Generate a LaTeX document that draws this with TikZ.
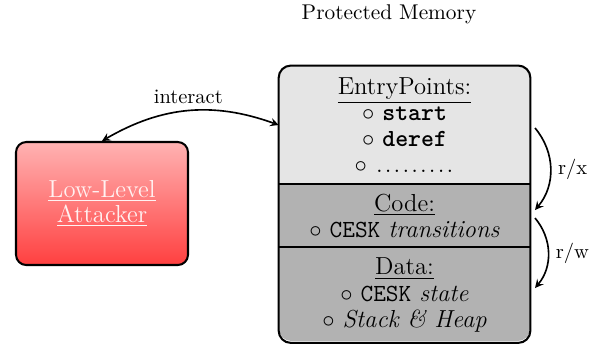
\documentclass[tikz,border=0pt]{standalone}
\usepackage{xcolor}
\usepackage{tikz}
\usetikzlibrary{positioning}
\definecolor{entrygray}{gray}{0.9}
\definecolor{storegray}{gray}{0.7}
\newcommand{\entrydots}{\hbox{\leaders\hbox to 4.3pt{\hss.\hss}\hskip 38.7pt}}

\begin{document}
\begin{tikzpicture}[x=0.4878pt, y=-0.4878pt, >=stealth,
  memsection/.style={minimum width=122.4pt, inner sep=0pt, align=center,
    font=\linespread{0.91}\large},
  attacker/.style={draw, line width=1pt, rounded corners=5pt, align=center,
    minimum width=83.9pt, minimum height=60pt, top color=red!30,
    bottom color=red!75, text=red!5, font=\linespread{0.86}\large},
  access/.style={->, thick}]
  \useasboundingbox (0,0) rectangle (602,343);

  \node[font=\fontsize{10.4pt}{12.5pt}\selectfont] (memtitle) at (389,14) {Protected Memory};

  % the three parts of memory, clipped to one rounded box
  \begin{scope}
    \clip[rounded corners=6pt] (279,66) rectangle (530,341);
    \node[memsection, fill=entrygray, minimum height=57.6pt] (entry) at (404.5,125)
      {\underline{EntryPoints:}\\ $\circ$ \texttt{\textbf{start}}\\ $\circ$ \texttt{\textbf{deref}}\\ $\circ$ \entrydots};
    \node[memsection, fill=storegray, minimum height=30.2pt, below=0pt of entry] (code)
      {\underline{Code:}\\ $\circ$ \texttt{CESK} \textit{transitions}};
    \node[memsection, fill=storegray, minimum height=46.3pt, below=0pt of code] (data)
      {\underline{Data:}\\ $\circ$ \texttt{CESK} \textit{state}\\ $\circ$ \textit{Stack \& Heap}};
  \end{scope}
  \draw[line width=1pt, rounded corners=6pt] (entry.north west) rectangle (data.south east);
  \draw[line width=1pt] (entry.south west) -- (entry.south east);
  \draw[line width=1pt] (code.south west) -- (code.south east);

  \node[attacker] (attacker) at (102,203.5) {\underline{Low-Level}\\\underline{Attacker}};

  \draw[<->, thick] (attacker.north) to[bend left=25] node[above] {interact} (entry.west);

  \coordinate (rxtop) at (535,128);
  \coordinate (rxbot) at (535,210);
  \coordinate (rwtop) at (535,218);
  \coordinate (rwbot) at (535,288);
  \draw[access] (rxtop) to[bend left=40] node[right] {r/x} (rxbot);
  \draw[access] (rwtop) to[bend left=40] node[right] {r/w} (rwbot);
\end{tikzpicture}
\end{document}
